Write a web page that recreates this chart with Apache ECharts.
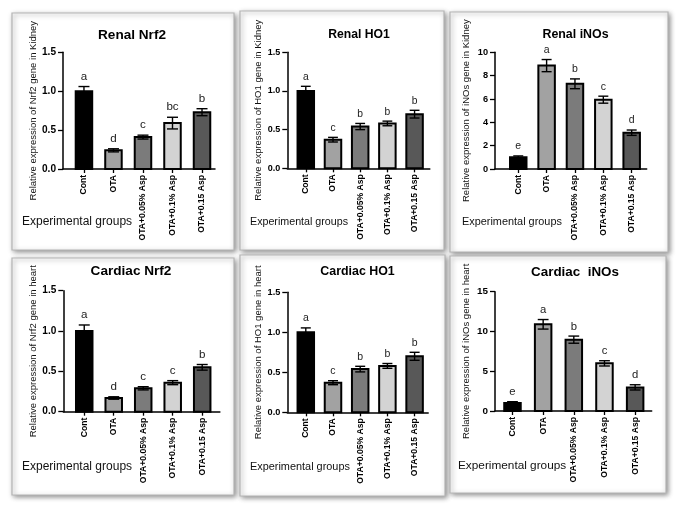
<!DOCTYPE html>
<html><head><meta charset="utf-8">
<script src="https://cdn.jsdelivr.net/npm/echarts@6/dist/echarts.min.js"></script>
<style>html,body{margin:0;padding:0;background:#fff}#c{width:676px;height:508px}</style>
</head><body><div id="c"></div>
<script>
// ---------- data ----------
const groups = ['Cont','OTA','OTA+0.05% Asp','OTA+0.1% Asp','OTA+0.15 Asp'];
const xLabel = 'Experimental groups';
const titles = ['Renal Nrf2','Renal HO1','Renal iNOs','Cardiac Nrf2','Cardiac HO1','Cardiac  iNOs'];
const yNames = [
  'Relative expression of Nrf2 gene in Kidney',
  'Relative expression of HO1 gene in Kidney',
  'Relative expression of iNOs gene in Kidney',
  'Relative expression of Nrf2 gene in heart',
  'Relative expression of HO1 gene in heart',
  'Relative expression of iNOs gene in heart'
];
const yMax = [1.5,1.5,10,1.5,1.5,15];
const yStep = [0.5,0.5,2,0.5,0.5,5];
const yDecimals = [1,1,0,1,1,0];

const renalNrf2Mean = [1.00,0.24,0.41,0.59,0.73];
const renalNrf2Err  = [0.06,0.02,0.025,0.075,0.045];
const renalNrf2Sig  = ['a','d','c','bc','b'];
const renalHO1Mean  = [1.00,0.37,0.54,0.58,0.70];
const renalHO1Err   = [0.06,0.03,0.04,0.03,0.05];
const renalHO1Sig   = ['a','c','b','b','b'];
const renalINOsMean = [1.0,8.86,7.3,5.94,3.11];
const renalINOsErr  = [0.12,0.52,0.42,0.3,0.23];
const renalINOsSig  = ['e','a','b','c','d'];
const cardiacNrf2Mean = [1.00,0.17,0.29,0.36,0.55];
const cardiacNrf2Err  = [0.075,0.015,0.02,0.025,0.035];
const cardiacNrf2Sig  = ['a','d','c','c','b'];
const cardiacHO1Mean  = [1.00,0.37,0.54,0.58,0.70];
const cardiacHO1Err   = [0.055,0.025,0.035,0.03,0.05];
const cardiacHO1Sig   = ['a','c','b','b','b'];
const cardiacINOsMean = [1.0,10.9,8.97,5.99,2.97];
const cardiacINOsErr  = [0.17,0.6,0.45,0.33,0.33];
const cardiacINOsSig  = ['e','a','b','c','d'];

const panelMeans = [renalNrf2Mean, renalHO1Mean, renalINOsMean, cardiacNrf2Mean, cardiacHO1Mean, cardiacINOsMean];
const panelErrs  = [renalNrf2Err, renalHO1Err, renalINOsErr, cardiacNrf2Err, cardiacHO1Err, cardiacINOsErr];
const panelSigs  = [renalNrf2Sig, renalHO1Sig, renalINOsSig, cardiacNrf2Sig, cardiacHO1Sig, cardiacINOsSig];

// ---------- layout & style ----------
const barColors = ['#000000','#a2a2a2','#7b7b7b','#d3d3d3','#585858'];
const FONT = "'Liberation Sans', Arial, Helvetica, sans-serif";
const layout = [
  {box:[12,13,222,237],  grid:[63,52.3,152,116.7],     xr:[-0.71,4.44], title:[132,35],    expl:[22,222],  s:1.10},
  {box:[240,11,204,239], grid:[287.3,52.3,142.5,116],  xr:[-0.68,4.56], title:[359,35],    expl:[250,222], s:0.98},
  {box:[450,12,218,240], grid:[495,52.3,151.7,116.7],  xr:[-0.82,4.53], title:[575.5,35],  expl:[462,222], s:1.00},
  {box:[12,258,222,237], grid:[63.3,290.7,156.6,121],  xr:[-0.71,4.60], title:[131,271],   expl:[22,467],  s:1.10},
  {box:[240,255,205,241],grid:[287.3,292.3,140.9,120], xr:[-0.68,4.50], title:[357.5,272], expl:[250,467], s:1.00},
  {box:[450,256,216,237],grid:[495,291.7,156.7,119.3], xr:[-0.57,4.54], title:[575,272],   expl:[458,466], s:1.08}
];

const grids = [], xAxes = [], yAxes = [], series = [], graphics = [];
const idx = [0,1,2,3,4];

layout.forEach((L, p) => {
  graphics.push({
    type:'rect', z:-10,
    shape:{x:L.box[0], y:L.box[1], width:L.box[2], height:L.box[3]},
    style:{fill:'#fff', stroke:'#b5b5b5', lineWidth:1.2,
      shadowBlur:5, shadowColor:'rgba(0,0,0,0.45)', shadowOffsetX:1.5, shadowOffsetY:1.5}
  });
  graphics.push({type:'text', z:10, style:{text:titles[p], x:L.title[0], y:L.title[1],
    textAlign:'center', textVerticalAlign:'middle', fill:'#000',
    font:'bold ' + (12.4*L.s).toFixed(1) + 'px ' + FONT}});
  graphics.push({type:'text', z:10, style:{text:xLabel, x:L.expl[0], y:L.expl[1],
    textAlign:'left', textVerticalAlign:'middle', fill:'#111',
    font:(10.9*L.s).toFixed(1) + 'px ' + FONT}});

  grids.push({left:L.grid[0], top:L.grid[1], width:L.grid[2], height:L.grid[3], containLabel:false});
  xAxes.push({
    gridIndex:p, type:'value', min:L.xr[0], max:L.xr[1],
    splitLine:{show:false},
    axisLine:{show:true, onZero:false, lineStyle:{color:'#000', width:1.5}},
    axisTick:{show:true, length:4, lineStyle:{color:'#000', width:1.3}, customValues:idx},
    axisLabel:{show:true, customValues:idx, rotate:90, margin:6, color:'#000',
      fontFamily:FONT, fontWeight:'bold', fontSize:8.6,
      formatter:v => (Number.isInteger(v) && v>=0 && v<groups.length) ? groups[v] : ''}
  });
  yAxes.push({
    gridIndex:p, type:'value', min:0, max:yMax[p], interval:yStep[p],
    splitLine:{show:false},
    axisLine:{show:true, onZero:false, lineStyle:{color:'#000', width:1.5}},
    axisTick:{show:true, length:5, lineStyle:{color:'#000', width:1.3}},
    axisLabel:{margin:7, color:'#000', fontFamily:FONT, fontWeight:'bold', fontSize:+(9.2*L.s).toFixed(1),
      formatter:v => v.toFixed(yDecimals[p])},
    name:yNames[p], nameLocation:'middle', nameGap:24,
    nameTextStyle:{fontFamily:FONT, fontSize:9.5, color:'#111'}
  });
  const data = panelMeans[p].map((m,i) => [i, m, panelErrs[p][i]]);
  const s = L.s;
  series.push({
    type:'custom', xAxisIndex:p, yAxisIndex:p, data:data, clip:false,
    renderItem:function(params, api){
      const i = params.dataIndex;
      const x = api.value(0), v = api.value(1), e = api.value(2);
      const base = api.coord([x,0]);
      const top = api.coord([x,v]);
      const hi = api.coord([x,v+e]);
      const lo = api.coord([x,v-e]);
      const w = 16.5, cap = 10*s;
      const ls = {stroke:'#000', lineWidth:1.4};
      return {type:'group', children:[
        {type:'rect', shape:{x:base[0]-w/2, y:top[1], width:w, height:base[1]-top[1]},
          style:{fill:barColors[i], stroke:'#000', lineWidth:2}},
        {type:'line', shape:{x1:base[0], y1:lo[1], x2:base[0], y2:hi[1]}, style:ls},
        {type:'line', shape:{x1:base[0]-cap/2, y1:hi[1], x2:base[0]+cap/2, y2:hi[1]}, style:ls},
        {type:'line', shape:{x1:base[0]-cap/2, y1:lo[1], x2:base[0]+cap/2, y2:lo[1]}, style:ls},
        {type:'text', style:{text:panelSigs[p][i], x:base[0], y:hi[1]-4, textAlign:'center',
          textVerticalAlign:'bottom', fill:'#222', font:(10.5*s).toFixed(1)+'px ' + FONT}}
      ]};
    }
  });
});

const chart = echarts.init(document.getElementById('c'), null, {renderer:'canvas'});
chart.setOption({
  animation:false,
  backgroundColor:'#fff',
  grid:grids, xAxis:xAxes, yAxis:yAxes, series:series, graphic:graphics
});
</script>
</body></html>
